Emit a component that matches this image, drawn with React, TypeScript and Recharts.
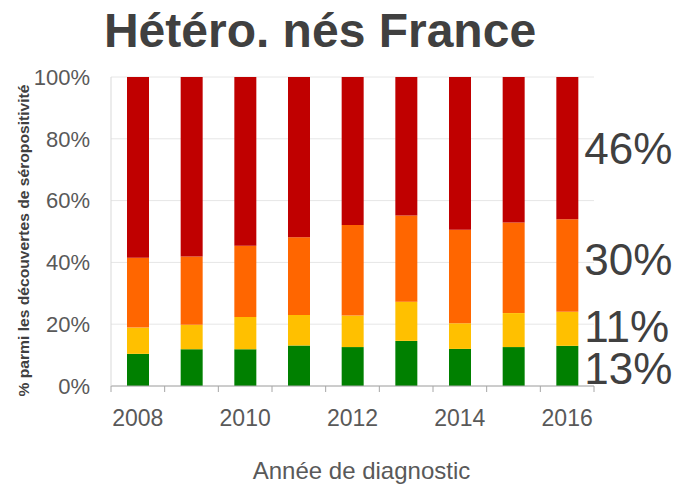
import React from 'react';
import { BarChart, Bar, XAxis, YAxis, CartesianGrid, LabelList } from 'recharts';

const years = ['2008', '2009', '2010', '2011', '2012', '2013', '2014', '2015', '2016'];
// share of each group, bottom to top (%)
const green = [10.4, 11.9, 11.9, 13.1, 12.6, 14.6, 12.0, 12.6, 13];
const yellow = [8.5, 7.9, 10.4, 9.9, 10.2, 12.7, 8.3, 11.0, 11];
const orange = [22.6, 22.1, 23.1, 25.1, 29.3, 27.9, 30.3, 29.3, 30];
const red = [58.5, 58.1, 54.6, 51.9, 47.9, 44.8, 49.4, 47.1, 46];
const yTicks = [0, 20, 40, 60, 80, 100];

const data = years.map((year, i) => ({
  year,
  vert: green[i],
  jaune: yellow[i],
  orange: orange[i],
  rouge: red[i],
}));

const FONT = '"Liberation Sans", Arial, sans-serif';
const TEXT = '#595959';
const TICK_LEN = 6;
const TICK_GAP = 18;

const XTick = (props: any) => {
  const { x, y, payload, index, visibleTicksCount } = props;
  const half = payload && payload.offset ? payload.offset : 483 / years.length / 2;
  const top = y - TICK_LEN - TICK_GAP;
  return (
    <g>
      <line x1={x - half} x2={x - half} y1={top} y2={top + TICK_LEN} stroke="#a6a6a6" />
      {index === visibleTicksCount - 1 && (
        <line x1={x + half} x2={x + half} y1={top} y2={top + TICK_LEN} stroke="#a6a6a6" />
      )}
      {index % 2 === 0 && (
        <text x={x} y={y} dy="0.71em" textAnchor="middle" fill={TEXT} fontSize={23} fontFamily={FONT}>
          {payload.value}
        </text>
      )}
    </g>
  );
};

// small vertical nudges so the end labels don't collide
const makeEndLabel = (nudge: number) => (props: any) => {
  const { x, y, width, height, value, index } = props;
  if (index !== years.length - 1) return null;
  return (
    <text
      x={x + width + 6}
      y={y + height / 2 + nudge}
      dominantBaseline="central"
      fill="#404040"
      fontSize={44}
      fontFamily={FONT}
    >
      {Math.round(value)}%
    </text>
  );
};

export default function App() {
  return (
    <div style={{ position: 'absolute', left: 0, top: 0, width: 681, height: 492, background: '#fff' }}>
      <div
        style={{
          position: 'absolute',
          left: 0,
          top: 7,
          width: 640,
          textAlign: 'center',
          fontFamily: FONT,
          fontWeight: 'bold',
          fontSize: 48,
          lineHeight: '48px',
          color: '#404040',
        }}
      >
        Hétéro. nés France
      </div>
      <BarChart
        width={681}
        height={492}
        data={data}
        margin={{ top: 77, right: 87, left: 0, bottom: 76 }}
        barSize={22}
      >
        <CartesianGrid vertical={false} stroke="#e6e6e6" />
        <XAxis
          dataKey="year"
          height={30}
          interval={0}
          tickLine={false}
          tickSize={TICK_LEN}
          tickMargin={TICK_GAP}
          stroke="#a6a6a6"
          tick={<XTick />}
          label={{
            content: (p: any) => {
              const vb = p.viewBox;
              return (
                <text
                  x={vb.x + vb.width / 2 + 9}
                  y={470}
                  textAnchor="middle"
                  dominantBaseline="central"
                  fill={TEXT}
                  fontSize={24}
                  fontFamily={FONT}
                >
                  Année de diagnostic
                </text>
              );
            },
          }}
        />
        <YAxis
          width={111}
          domain={[0, 100]}
          ticks={yTicks}
          tickFormatter={(v: number) => `${v}%`}
          tickLine={false}
          tickMargin={15}
          stroke="#d9d9d9"
          tick={{ fill: TEXT, fontSize: 22, fontFamily: FONT }}
          label={{
            content: (p: any) => {
              const vb = p.viewBox;
              const cx = vb.x + 24;
              const cy = vb.y + vb.height / 2 + 9;
              return (
                <text
                  x={cx}
                  y={cy}
                  transform={`rotate(-90 ${cx} ${cy})`}
                  textAnchor="middle"
                  dominantBaseline="central"
                  fill="#404040"
                  fontSize={14}
                  fontWeight="bold"
                  fontFamily={FONT}
                  textLength={312}
                  lengthAdjust="spacingAndGlyphs"
                >
                  % parmi les découvertes de séropositivité
                </text>
              );
            },
          }}
        />
        <Bar dataKey="vert" stackId="a" fill="#008000" isAnimationActive={false}>
          <LabelList dataKey="vert" content={makeEndLabel(3)} />
        </Bar>
        <Bar dataKey="jaune" stackId="a" fill="#ffc000" isAnimationActive={false}>
          <LabelList dataKey="jaune" content={makeEndLabel(-2)} />
        </Bar>
        <Bar dataKey="orange" stackId="a" fill="#ff6600" isAnimationActive={false}>
          <LabelList dataKey="orange" content={makeEndLabel(-6)} />
        </Bar>
        <Bar dataKey="rouge" stackId="a" fill="#c00000" isAnimationActive={false}>
          <LabelList dataKey="rouge" content={makeEndLabel(0)} />
        </Bar>
      </BarChart>
    </div>
  );
}
